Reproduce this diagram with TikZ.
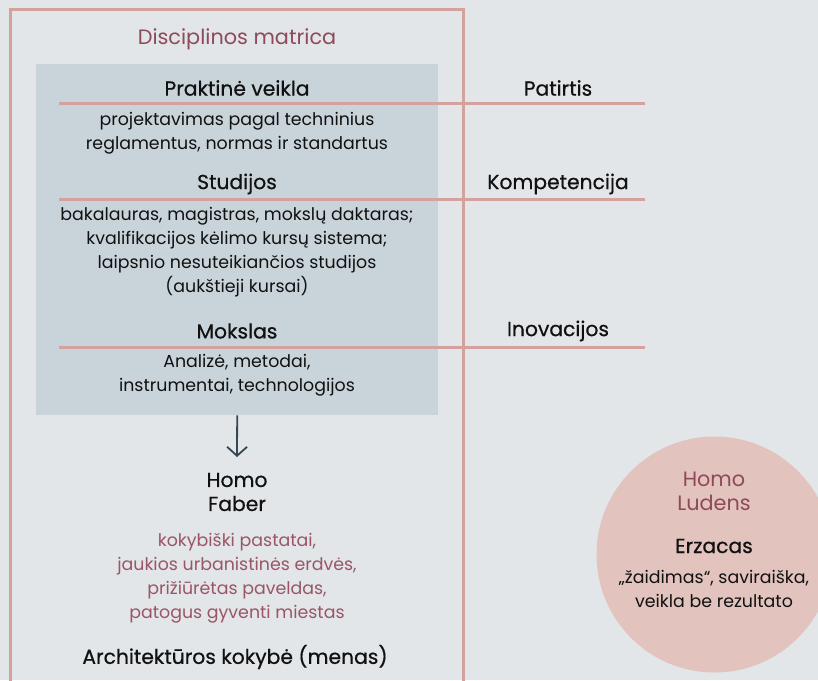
\documentclass[tikz,border=0pt]{standalone}
\usepackage{fontspec}
\setmainfont{Poppins}
\newfontfamily\medfont{Poppins}[FakeBold=0.6]
\usetikzlibrary{arrows.meta}
\definecolor{bg}{HTML}{E2E6E9}
\definecolor{framec}{HTML}{D4A19D}
\definecolor{boxc}{HTML}{C9D4DA}
\definecolor{maroon}{HTML}{8E4A5A}
\definecolor{redtxt}{HTML}{9B5565}
\definecolor{circc}{HTML}{E2C3BD}
\definecolor{arrowc}{HTML}{37474F}
\definecolor{txt}{HTML}{111111}
\begin{document}
\begin{tikzpicture}[x=1pt,y=-1pt,
  body/.style={font=\fontsize{17.4}{24}\selectfont, align=center, text=txt, inner sep=0pt},
  head/.style={font=\medfont\fontsize{20.3}{24}\selectfont, align=center, text=txt, inner sep=0pt},
  mtitle/.style={font=\fontsize{20.8}{24}\selectfont, align=center, text=maroon, inner sep=0pt},
  rulel/.style={draw=framec, line width=3pt}]
\fill[bg] (0,0) rectangle (818,680);
\useasboundingbox (0,0) rectangle (818,680);
% outer frame (open at bottom)
\draw[framec, line width=3pt] (10,700) -- (10,9.5) -- (463,9.5) -- (463,700);
% grey-blue box
\node[fill=boxc, minimum width=402pt, minimum height=351pt, inner sep=0pt, anchor=north west] (box) at (36,64) {};
\node[mtitle] (title) at (237,39) {Disciplinos matrica};
% headings
\node[head] (prak) at (237,88) {Praktinė veikla};
\node[head] (pat) at (558,88) {Patirtis};
\node[head] (stud) at (237,184) {Studijos};
\node[head] (komp) at (558,184) {Kompetencija};
\node[head] (moks) at (237,331) {Mokslas};
\node[head] (inov) at (558,331) {Inovacijos};
% rules
\coordinate (r1a) at (59,103.5); \coordinate (r1b) at (645,103.5);
\coordinate (r2a) at (59,199.5); \coordinate (r2b) at (645,199.5);
\coordinate (r3a) at (59,347.5); \coordinate (r3b) at (645,347.5);
\draw[rulel] (r1a) -- (r1b);
\draw[rulel] (r2a) -- (r2b);
\draw[rulel] (r3a) -- (r3b);
% body texts
\node[body] (prakt) at (237,133) {projektavimas pagal techninius\\reglamentus, normas ir standartus};
\node[body] (studt) at (237,252) {bakalauras, magistras, mokslų daktaras;\\kvalifikacijos kėlimo kursų sistema;\\laipsnio nesuteikiančios studijos\\(aukštieji kursai)};
\node[body] (mokst) at (237,375) {Analizė, metodai,\\instrumentai, technologijos};
% arrow
\coordinate (arrEnd) at (237,457);
\draw[arrowc, line width=1.8pt, -{Straight Barb[length=9pt,width=20pt]}] (box.south) -- (arrEnd);
\node[head] (faber) at (237,492) {Homo\\Faber};
\node[body, text=redtxt] (faberT) at (237,578) {kokybiški pastatai,\\jaukios urbanistinės erdvės,\\prižiūrėtas paveldas,\\patogus gyventi miestas};
\node[head] (arch) at (235,657) {Architektūros kokybė (menas)};
% circle
\node[circle, fill=circc, minimum size=236pt, inner sep=0pt] (circ) at (714.5,554.5) {};
\node[mtitle] (ludens) at (714,491.5) {Homo\\Ludens};
\node[head] (erz) at (714,546) {Erzacas};
\node[body] (erzt) at (714,588.5) {„žaidimas“, saviraiška,\\veikla be rezultato};
\end{tikzpicture}
\end{document}
